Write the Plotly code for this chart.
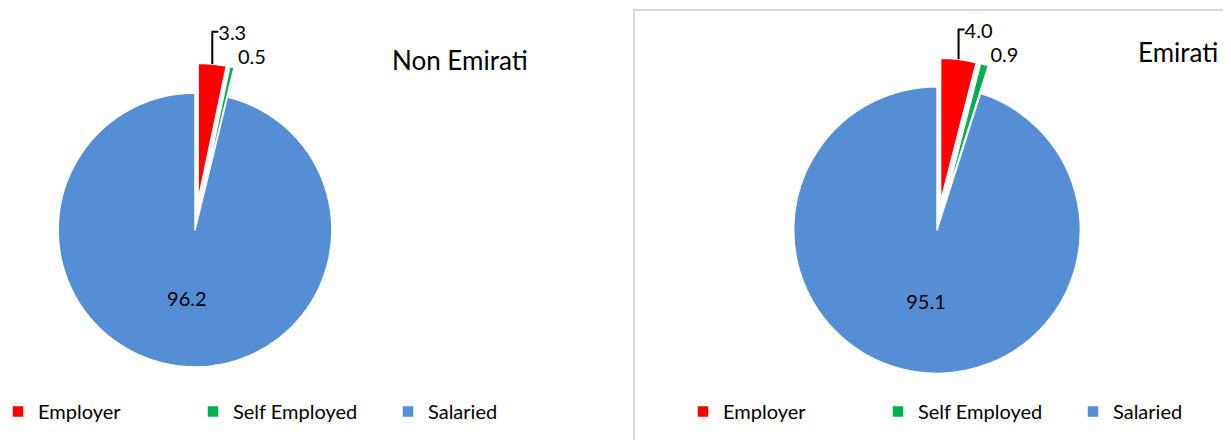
import plotly.graph_objects as go

categories = ["Employer", "Self Employed", "Salaried"]
non_emirati = [3.3, 0.5, 96.2]
emirati = [4.0, 0.9, 95.1]
colors = ["#FF0000", "#00B050", "#558ED5"]

W, H = 1231, 440
OFF = 8  # page body margin, shift everything back by this


def fx(px):
    return (px - OFF) / W


def fy(py):
    return 1 - (py - OFF) / H


def px_domain(cx, cy, half):
    return dict(x=[fx(cx - half), fx(cx + half)], y=[fy(cy + half), fy(cy - half)])


fig = go.Figure()

fig.add_trace(go.Pie(
    labels=categories, values=non_emirati, sort=False, direction="clockwise",
    rotation=0, pull=[0.22, 0.22, 0],
    marker=dict(colors=colors, line=dict(color="white", width=1.5)),
    texttemplate="%{value:.1f}", textposition=["outside", "outside", "inside"],
    insidetextorientation="horizontal",
    textfont=dict(family="Lato", size=20, color="black"),
    domain=px_domain(195, 230, 167), legend="legend", legendgroup="non",
    showlegend=True, hoverinfo="label+value",
))

fig.add_trace(go.Pie(
    labels=categories, values=emirati, sort=False, direction="clockwise",
    rotation=0, pull=[0.2, 0.2, 0],
    marker=dict(colors=colors, line=dict(color="white", width=1.5)),
    texttemplate="%{value:.1f}", textposition=["outside", "outside", "inside"],
    insidetextorientation="horizontal",
    textfont=dict(family="Lato", size=20, color="black"),
    domain=px_domain(937, 230, 172), legend="legend2", legendgroup="emi",
    showlegend=True, hoverinfo="label+value",
))

fig.update_layout(
    width=W, height=H,
    margin=dict(l=0, r=0, t=0, b=0, pad=0, autoexpand=False),
    paper_bgcolor="white", plot_bgcolor="white",
    font=dict(family="Lato", color="black"),
    legend=dict(orientation="h", traceorder="normal", x=fx(-2), y=fy(392),
                xanchor="left", yanchor="top", entrywidth=150,
                font=dict(size=20), bgcolor="rgba(0,0,0,0)"),
    legend2=dict(orientation="h", traceorder="normal", x=fx(683), y=fy(392),
                 xanchor="left", yanchor="top", entrywidth=150,
                 font=dict(size=20), bgcolor="rgba(0,0,0,0)"),
    annotations=[
        dict(text="Non Emirati", x=fx(390), y=fy(60), xref="paper", yref="paper",
             xanchor="left", yanchor="middle", showarrow=False, font=dict(size=26)),
        dict(text="Emirati", x=fx(1136), y=fy(52), xref="paper", yref="paper",
             xanchor="left", yanchor="middle", showarrow=False, font=dict(size=26)),
    ],
    shapes=[
        dict(type="rect", xref="paper", yref="paper", x0=fx(634), x1=1.05,
             y0=-0.05, y1=fy(10), line=dict(color="#D9D9D9", width=2),
             fillcolor="rgba(0,0,0,0)", layer="below"),
    ],
)

fig.write_html("out.html")
